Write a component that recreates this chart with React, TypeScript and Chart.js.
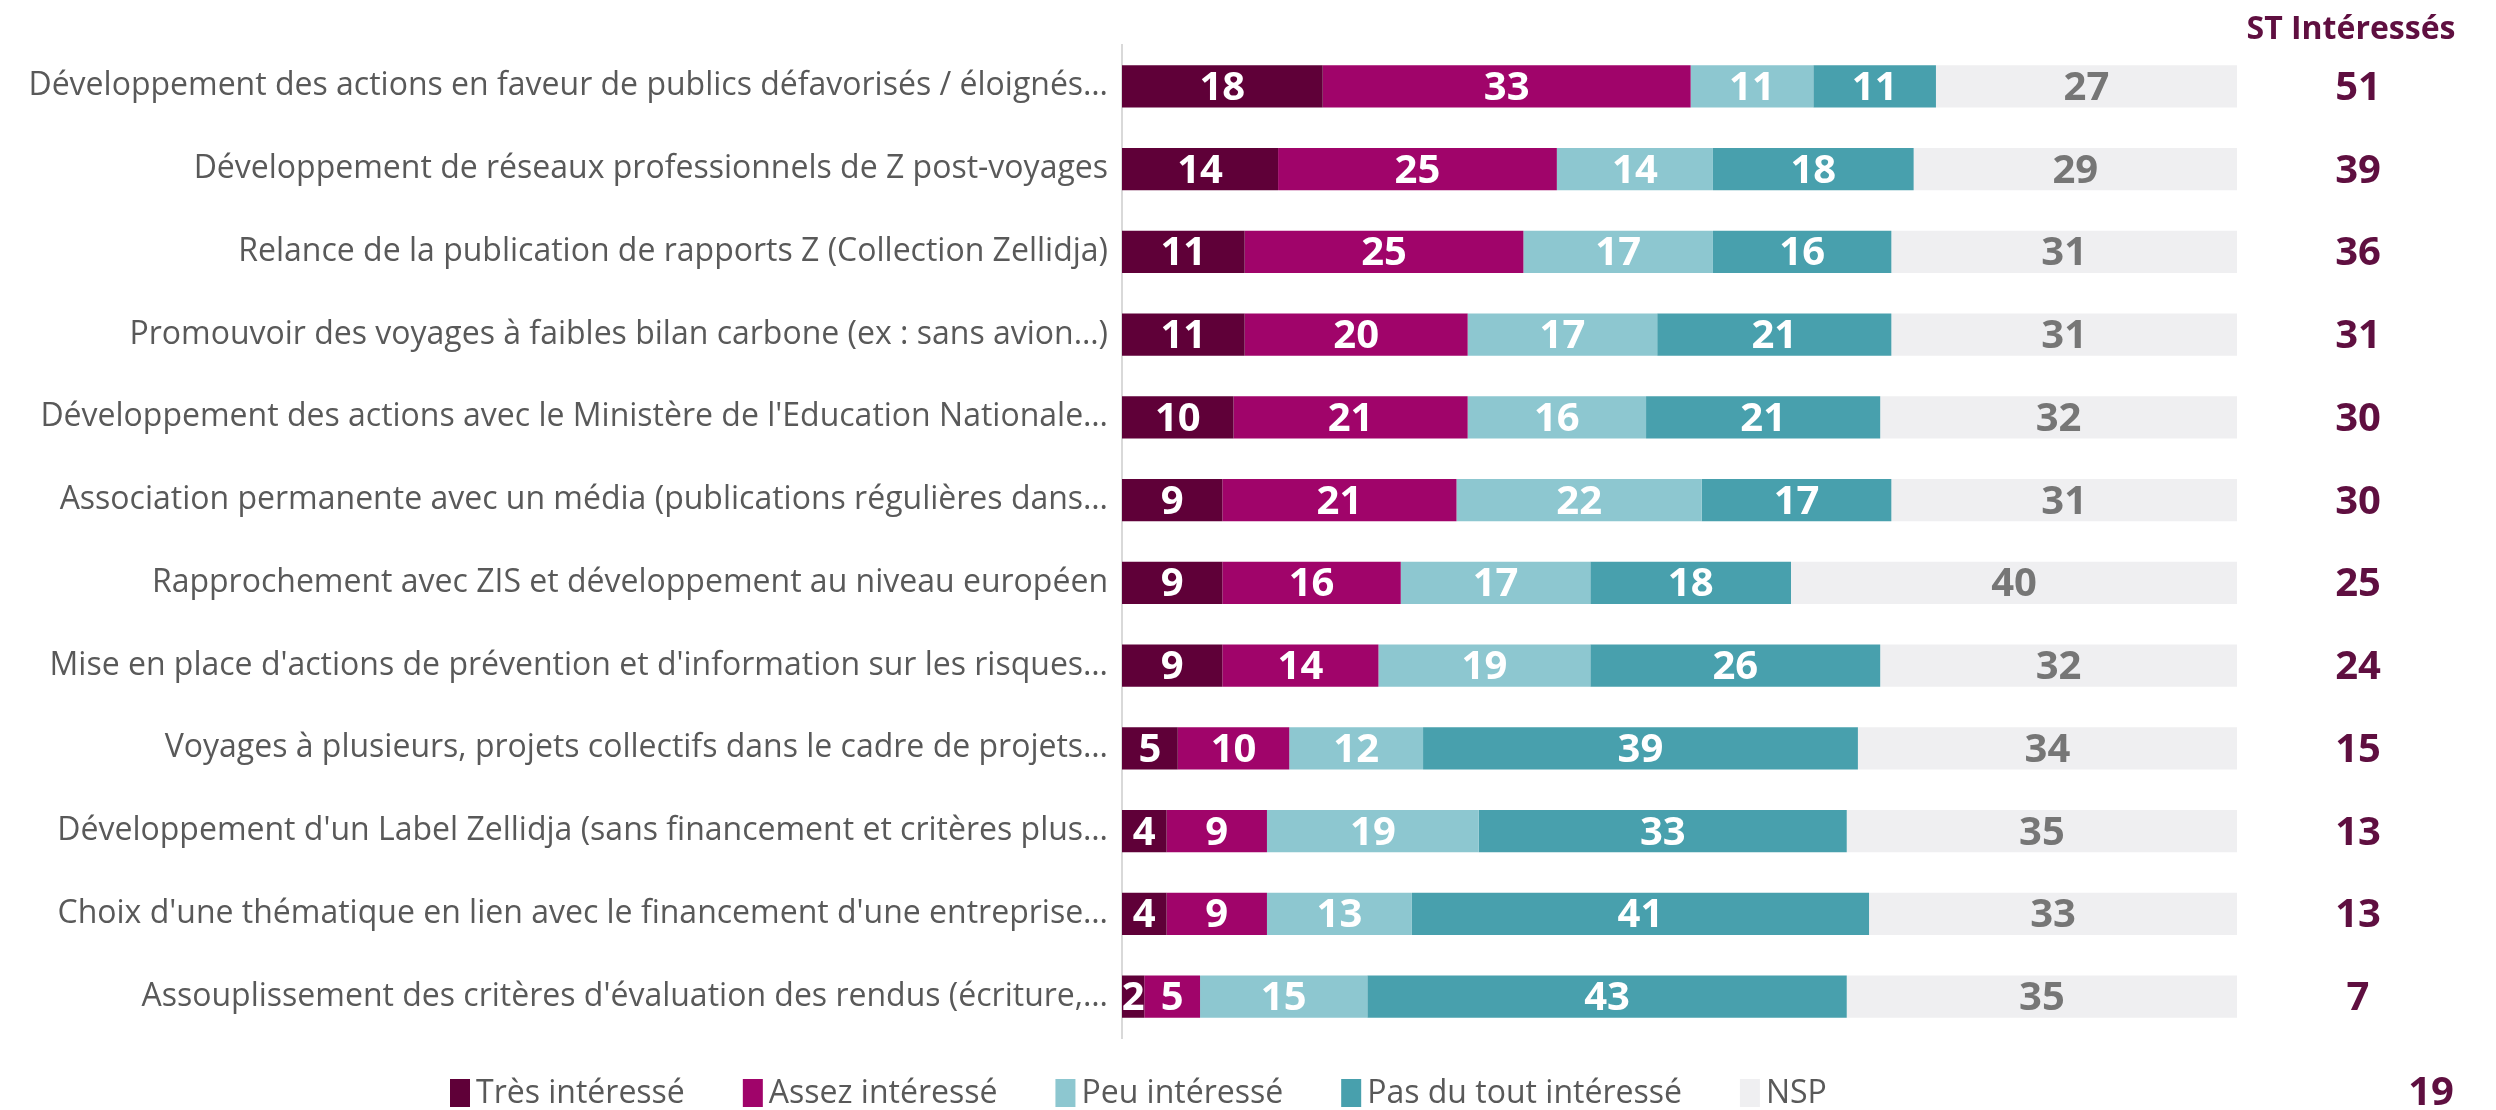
import React, { useEffect, useRef } from "react";
import { Chart, registerables } from "chart.js";

Chart.register(...registerables);

const categories = [
  "Développement des actions en faveur de publics défavorisés / éloignés…",
  "Développement de réseaux professionnels de Z post-voyages",
  "Relance de la publication de rapports Z (Collection Zellidja)",
  "Promouvoir des voyages à faibles bilan carbone (ex : sans avion…)",
  "Développement des actions avec le Ministère de l'Education Nationale…",
  "Association permanente avec un média (publications régulières dans…",
  "Rapprochement avec ZIS et développement au niveau européen",
  "Mise en place d'actions de prévention et d'information sur les risques…",
  "Voyages à plusieurs, projets collectifs dans le cadre de projets…",
  "Développement d'un Label Zellidja (sans financement et critères plus…",
  "Choix d'une thématique en lien avec le financement d'une entreprise…",
  "Assouplissement des critères d'évaluation des rendus (écriture,…",
];

const seriesNames = [
  "Très intéressé",
  "Assez intéressé",
  "Peu intéressé",
  "Pas du tout intéressé",
  "NSP",
];

const tresInteresse = [18, 14, 11, 11, 10, 9, 9, 9, 5, 4, 4, 2];
const assezInteresse = [33, 25, 25, 20, 21, 21, 16, 14, 10, 9, 9, 5];
const peuInteresse = [11, 14, 17, 17, 16, 22, 17, 19, 12, 19, 13, 15];
const pasDuTout = [11, 18, 16, 21, 21, 17, 18, 26, 39, 33, 41, 43];
const nsp = [27, 29, 31, 31, 32, 31, 40, 32, 34, 35, 33, 35];

const stHeader = "ST Intéressés";
const stInteresses = [51, 39, 36, 31, 30, 30, 25, 24, 15, 13, 13, 7];
const stTotal = 19;

const colors = ["#5f0038", "#a0046a", "#8dc7d0", "#48a0ad", "#efeff1"];
const labelColors = ["#ffffff", "#ffffff", "#ffffff", "#ffffff", "#767676"];

const FONT = "'Open Sans', 'Noto Sans', sans-serif";

const W = 2496;
const H = 1110;

const overlayPlugin = {
  id: "overlay",
  afterDatasetsDraw(chart: any) {
    const ctx = chart.ctx;
    const yScale = chart.scales.y;
    ctx.save();
    // values inside bars
    ctx.textAlign = "center";
    ctx.textBaseline = "middle";
    ctx.font = `bold 40px ${FONT}`;
    chart.data.datasets.forEach((ds: any, i: number) => {
      const meta = chart.getDatasetMeta(i);
      meta.data.forEach((bar: any, j: number) => {
        const p = bar.getProps(["x", "y", "base"], true);
        ctx.fillStyle = labelColors[i];
        ctx.fillText(String(ds.data[j]), (p.x + p.base) / 2, p.y + 2);
      });
    });
    // right column
    ctx.fillStyle = "#5f0f40";
    ctx.font = `bold 40px ${FONT}`;
    stInteresses.forEach((v, j) => {
      ctx.fillText(String(v), 2358, yScale.getPixelForValue(j) + 2);
    });
    ctx.font = `bold 32px ${FONT}`;
    ctx.fillText(stHeader, 2351, 30);
    ctx.font = `bold 40px ${FONT}`;
    ctx.fillText(String(stTotal), 2431, 1094);

    // legend
    ctx.font = `32px ${FONT}`;
    ctx.textAlign = "left";
    let x = 450;
    const cy = 1093;
    chart.data.datasets.forEach((ds: any) => {
      ctx.fillStyle = ds.backgroundColor;
      ctx.fillRect(x, cy - 14, 20, 28);
      ctx.fillStyle = "#595959";
      ctx.fillText(ds.label, x + 26, cy + 1);
      x += 26 + ctx.measureText(ds.label).width + 58;
    });
    ctx.restore();
  },
};

export default function App() {
  const ref = useRef<HTMLCanvasElement>(null);

  useEffect(() => {
    if (!ref.current) return;
    const series = [tresInteresse, assezInteresse, peuInteresse, pasDuTout, nsp];
    const chart = new Chart(ref.current, {
      type: "bar",
      data: {
        labels: categories,
        datasets: series.map((d, i) => ({
          label: seriesNames[i],
          data: d,
          backgroundColor: colors[i],
          borderWidth: 0,
          categoryPercentage: 0.51,
          barPercentage: 1,
        })),
      },
      options: {
        indexAxis: "y",
        responsive: false,
        animation: false,
        devicePixelRatio: 1,
        layout: { padding: { left: 0, right: 259, top: 45, bottom: 72 } },
        plugins: {
          legend: { display: false },
          tooltip: { enabled: false },
        },
        scales: {
          x: {
            stacked: true,
            min: 0,
            max: 100,
            display: false,
          },
          y: {
            stacked: true,
            grid: { display: false },
            border: { display: true, color: "#d9d9d9", width: 2 },
            ticks: {
              color: "#595959",
              font: { family: FONT, size: 32 },
              padding: 6,
            },
            afterFit: (scale: any) => {
              scale.width = 1122;
            },
          },
        },
      },
      plugins: [overlayPlugin],
    } as any);
    return () => chart.destroy();
  }, []);

  return (
    <div style={{ position: "absolute", left: 0, top: 0, width: W, height: H, background: "#fff" }}>
      <canvas ref={ref} width={W} height={H} style={{ display: "block" }} />
    </div>
  );
}
